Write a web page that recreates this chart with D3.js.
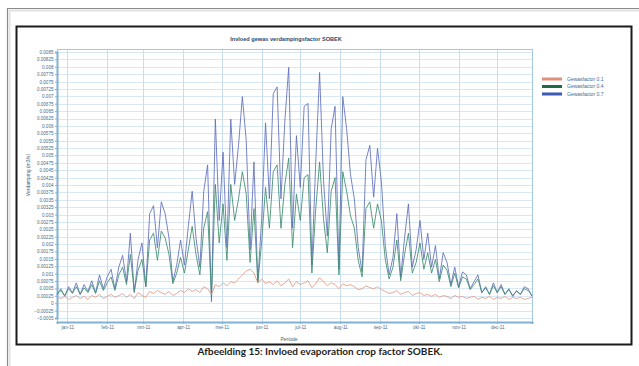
<!DOCTYPE html>
<html><head><meta charset="utf-8">
<script src="https://cdn.jsdelivr.net/npm/d3@7"></script>
<style>body{margin:0;background:#fff;overflow:hidden}</style>
</head><body><svg id="c" width="639" height="366"></svg>
<script>
const chartTitle = "Invloed gewas verdampingsfactor SOBEK";
const xLabel = "Periode";
const yLabel = "Verdamping (m3/s)";
const caption = "Afbeelding 15: Invloed evaporation crop factor SOBEK.";
const seriesNames = ["Gewasfactor 0.1", "Gewasfactor 0.4", "Gewasfactor 0.7"];
const startDate = "2010-12-24";
const endDate = "2011-12-28";
const stepDays = 3;

const seriesLow = [0.00020,0.00016,0.00023,0.00013,0.00020,0.00026,0.00016,0.00023,0.00013,0.00026,0.00020,0.00030,0.00016,0.00023,0.00030,0.00020,
0.00026,0.00033,0.00020,0.00030,0.00016,0.00036,0.00026,0.00020,0.00040,0.00033,0.00043,0.00036,0.00030,0.00040,0.00026,
0.00033,0.00043,0.00036,0.00049,0.00040,0.00046,0.00036,0.00056,0.00049,0.00030,0.00063,0.00056,0.00069,0.00059,0.00073,0.00069,0.00082,0.00096,0.00109,0.00115,
0.00102,0.00069,0.00082,0.00066,0.00073,0.00063,0.00076,0.00059,0.00069,0.00082,0.00056,0.00073,0.00063,0.00069,0.00076,0.00053,0.00066,0.00086,0.00073,0.00059,0.00069,0.00063,0.00049,0.00066,0.00059,
0.00063,0.00056,0.00046,0.00049,0.00059,0.00053,0.00049,0.00056,0.00046,0.00040,0.00033,0.00036,0.00043,0.00030,0.00036,0.00040,0.00026,0.00033,0.00036,0.00026,0.00030,0.00023,0.00030,0.00020,0.00026,
0.00023,0.00016,0.00026,0.00020,0.00023,0.00016,0.00020,0.00023,0.00013,0.00020,0.00016,0.00023,0.00013,0.00020,0.00016,0.00023,0.00013,0.00020,0.00016,0.00020,0.00013,0.00016,0.00020];

const seriesMid = [0.00030,0.00043,0.00026,0.00049,0.00033,0.00056,0.00030,0.00052,0.00036,0.00063,0.00033,0.00076,0.00043,0.00069,0.00089,0.00043,
0.00096,0.00122,0.00063,0.00165,0.00040,0.00112,0.00148,0.00056,0.00214,0.00237,0.00145,0.00244,0.00221,0.00165,0.00066,
0.00102,0.00155,0.00102,0.00181,0.00260,0.00165,0.00096,0.00254,0.00310,0.00020,0.00402,0.00204,0.00336,0.00145,0.00402,0.00280,0.00353,0.00445,0.00369,0.00138,
0.00320,0.00069,0.00207,0.00392,0.00254,0.00445,0.00468,0.00254,0.00402,0.00491,0.00188,0.00369,0.00280,0.00425,0.00435,0.00102,0.00320,0.00478,0.00287,0.00171,0.00379,0.00425,0.00096,0.00445,0.00379,
0.00296,0.00254,0.00145,0.00089,0.00320,0.00343,0.00254,0.00336,0.00280,0.00148,0.00082,0.00122,0.00214,0.00076,0.00165,0.00237,0.00102,0.00138,0.00204,0.00115,0.00171,0.00102,0.00148,0.00073,0.00129,
0.00112,0.00056,0.00102,0.00052,0.00089,0.00082,0.00046,0.00063,0.00082,0.00036,0.00052,0.00030,0.00059,0.00036,0.00056,0.00030,0.00046,0.00026,0.00040,0.00030,0.00049,0.00043,0.00026];

const seriesHigh = [0.00030,0.00049,0.00023,0.00056,0.00036,0.00069,0.00030,0.00063,0.00040,0.00076,0.00036,0.00096,0.00049,0.00089,0.00115,0.00049,
0.00122,0.00162,0.00073,0.00237,0.00036,0.00148,0.00204,0.00056,0.00303,0.00330,0.00188,0.00343,0.00303,0.00221,0.00073,
0.00129,0.00214,0.00129,0.00260,0.00379,0.00221,0.00122,0.00379,0.00468,0.00005,0.00623,0.00280,0.00511,0.00188,0.00623,0.00402,0.00534,0.00699,0.00551,0.00181,
0.00478,0.00073,0.00287,0.00610,0.00353,0.00709,0.00732,0.00353,0.00617,0.00798,0.00254,0.00567,0.00392,0.00666,0.00676,0.00129,0.00478,0.00781,0.00419,0.00227,0.00590,0.00666,0.00115,0.00699,0.00590,
0.00435,0.00353,0.00188,0.00106,0.00485,0.00534,0.00359,0.00524,0.00412,0.00195,0.00096,0.00155,0.00303,0.00089,0.00221,0.00336,0.00122,0.00181,0.00280,0.00148,0.00237,0.00122,0.00195,0.00082,0.00171,
0.00138,0.00063,0.00122,0.00056,0.00106,0.00096,0.00049,0.00073,0.00096,0.00036,0.00056,0.00030,0.00069,0.00036,0.00063,0.00030,0.00049,0.00023,0.00043,0.00030,0.00056,0.00049,0.00023];

const xTickDates = ["2011-01-01","2011-02-01","2011-03-01","2011-04-01","2011-05-01","2011-06-01","2011-07-01","2011-08-01","2011-09-01","2011-10-01","2011-11-01","2011-12-01"];
const xTickLabels = ["jan-11","feb-11","mrt-11","apr-11","mei-11","jun-11","jul-11","aug-11","sep-11","okt-11","nov-11","dec-11"];
const yMin = -0.0005, yMax = 0.0085, yStep = 0.00025;

const colors = ["#e39a82", "#3f8c6c", "#5f6fbb"];
const seriesData = [seriesLow, seriesMid, seriesHigh];

const svg = d3.select("#c");
svg.append("rect").attr("width",639).attr("height",366).attr("fill","#fff");
// page frame
svg.append("path").attr("d","M7.5,366 V8.5 H639").attr("fill","none").attr("stroke","#8c8c8c").attr("stroke-width",1.2);
svg.append("path").attr("d","M9.5,366 V10.5 H639").attr("fill","none").attr("stroke","#e2e2e2").attr("stroke-width",2);
svg.append("rect").attr("x",16.5).attr("y",26.5).attr("width",615).attr("height",318)
  .attr("fill","#fff").attr("stroke","#1b1b1b").attr("stroke-width",2);

const m = {l:57, r:532, t:49, b:322};
const parse = d3.timeParse("%Y-%m-%d");
const t0 = parse(startDate);
const x = d3.scaleTime().domain([t0, parse(endDate)]).range([m.l, m.r]);
const y = d3.scaleLinear().domain([yMin, yMax]).range([m.b - 4, m.t + 3]);

const yTicks = d3.range(0, Math.round((yMax - yMin)/yStep) + 1).map(k => +(yMin + k*yStep).toFixed(6));
const fmt = d3.format("~g");

// grid
const g = svg.append("g");
g.selectAll("line.h").data(yTicks).join("line")
  .attr("x1",m.l).attr("x2",m.r).attr("y1",d=>Math.round(y(d))+0.5).attr("y2",d=>Math.round(y(d))+0.5)
  .attr("stroke","#d8e7f2").attr("stroke-width",1);
g.selectAll("line.v").data(xTickDates).join("line")
  .attr("x1",d=>Math.round(x(parse(d)))+0.5).attr("x2",d=>Math.round(x(parse(d)))+0.5)
  .attr("y1",m.t).attr("y2",m.b).attr("stroke","#c8ddee").attr("stroke-width",1);
svg.append("rect").attr("x",m.l+0.5).attr("y",m.t+0.5).attr("width",m.r-m.l).attr("height",m.b-m.t)
  .attr("fill","none").attr("stroke","#a2c9e2").attr("stroke-width",1);

// axes
const yAxis = d3.axisLeft(y).tickValues(yTicks).tickFormat(fmt).tickSize(2).tickPadding(1.5);
const ya = svg.append("g").attr("transform",`translate(${m.l},0)`).call(yAxis);
ya.select(".domain").attr("stroke","#7fb2d4").attr("stroke-width",2);
ya.selectAll(".tick line").attr("stroke","#7fb2d4");
ya.selectAll("text").attr("font-size","4.6px").attr("font-family","Liberation Sans, Arial").attr("fill","#4a6a88");

const xAxis = d3.axisBottom(x).tickValues(xTickDates.map(parse)).tickFormat((d,i)=>xTickLabels[i]).tickSize(2).tickPadding(1.5);
const xa = svg.append("g").attr("transform",`translate(0,${m.b})`).call(xAxis);
xa.select(".domain").attr("stroke","#7fb2d4").attr("stroke-width",2);
xa.selectAll(".tick line").attr("stroke","#7fb2d4");
xa.selectAll("text").attr("font-size","4.6px").attr("font-family","Liberation Sans, Arial").attr("fill","#4a6a88");

// lines
const line = d3.line().x((d,i)=>x(d3.timeDay.offset(t0, i*stepDays))).y(d=>y(d));
[2,1,0].forEach(k=>{
  svg.append("path").datum(seriesData[k]).attr("d",line).attr("fill","none")
    .attr("stroke",colors[k]).attr("stroke-width",1).attr("stroke-opacity",0.85);
});

// title & labels
svg.append("text").attr("x",286).attr("y",41).attr("text-anchor","middle")
  .attr("font-size","5.6px").attr("font-weight","bold").attr("font-family","Liberation Sans, Arial").attr("fill","#2c4a6e").text(chartTitle);
svg.append("text").attr("x",289).attr("y",341).attr("text-anchor","middle")
  .attr("font-size","5px").attr("font-family","Liberation Sans, Arial").attr("fill","#3f5f80").text(xLabel);
svg.append("text").attr("transform","translate(30,175) rotate(-90)").attr("text-anchor","middle")
  .attr("font-size","5px").attr("font-family","Liberation Sans, Arial").attr("fill","#3f5f80").text(yLabel);

// legend
const legendColors = ["#e0907a", "#1f6b45", "#3b5bb5"];
const lg = svg.append("g").attr("transform","translate(542,79)");
seriesNames.forEach((n,i)=>{
  lg.append("rect").attr("x",0).attr("y",i*7.5-1.5).attr("width",20).attr("height",3).attr("fill",legendColors[i]);
  lg.append("text").attr("x",25).attr("y",i*7.5+1.7).attr("font-size","5px").attr("font-family","Liberation Sans, Arial")
    .attr("fill","#3d6a98").text(n);
});

// caption
svg.append("text").attr("x",320).attr("y",355).attr("text-anchor","middle")
  .attr("font-size","10px").attr("font-weight","bold").attr("font-family","Lato, Open Sans, sans-serif").attr("fill","#1e1e1e").text(caption);
</script></body></html>
